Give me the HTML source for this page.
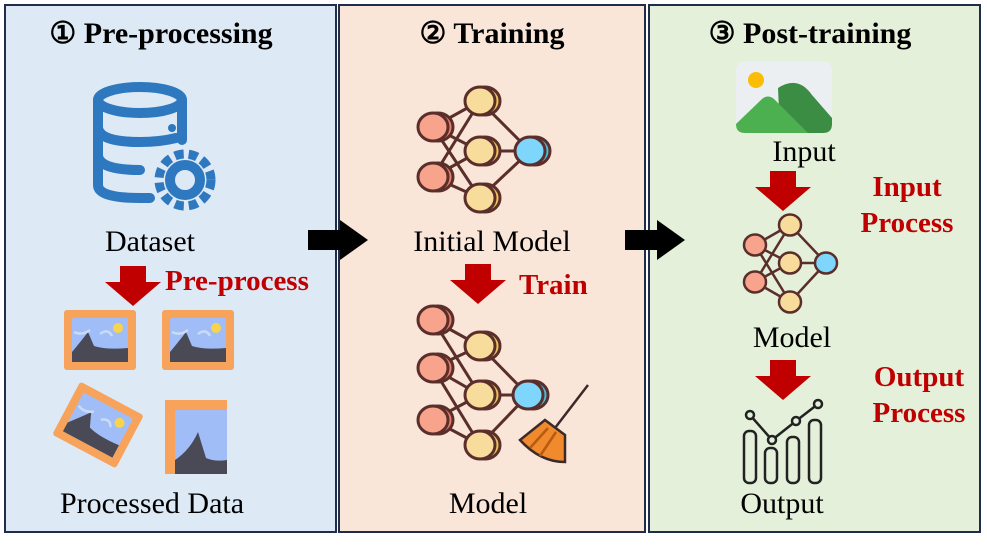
<!DOCTYPE html><html><head><style>body{margin:0;width:987px;height:541px;overflow:hidden;background:#fff}</style></head><body>
<svg width="987" height="541" viewBox="0 0 987 541" xmlns="http://www.w3.org/2000/svg" font-family="Liberation Serif, serif">
<defs>
<g id="dn"><rect x="-13" y="0" width="26" height="16" fill="#c00000"/><polygon points="-28,16 28,16 0,40" fill="#c00000"/></g>
<g id="rt"><rect x="0" y="-10" width="34" height="20" fill="#000"/><polygon points="32,-20 60,0 32,20" fill="#000"/></g>
<g id="pic"><rect x="-36" y="-30" width="72" height="60" rx="3" fill="#f7a35c"/><rect x="-28" y="-22" width="56" height="44" rx="2" fill="#a0bdf8"/><path d="M-28,12 Q-18,0 -12,-8 L-6,6 Q6,10 28,8 L28,22 L-28,22Z" fill="#4a4a56"/><path d="M-26,-8 Q-18,-4 -10,-10 M0,-6 Q8,-12 12,-4" stroke="#c8dcf8" stroke-width="2.5" fill="none"/><circle cx="18" cy="-12" r="5" fill="#f7d44c"/></g>
</defs>
<rect x="5" y="5" width="331" height="527" fill="#dde9f5" stroke="#1f2d4a" stroke-width="2"/>
<rect x="339" y="5" width="306" height="527" fill="#fae5d9" stroke="#1f2d4a" stroke-width="2"/>
<rect x="649" y="5" width="331" height="527" fill="#e4f0da" stroke="#1f2d4a" stroke-width="2"/>
<g font-weight="bold" font-size="30" text-anchor="middle" fill="#000">
<text x="161" y="43">① Pre-processing</text><text x="492" y="43">② Training</text><text x="810" y="43">③ Post-training</text></g>
<g font-size="30" text-anchor="middle" fill="#000">
<text x="150" y="251">Dataset</text><text x="152" y="513">Processed Data</text>
<text x="492" y="251">Initial Model</text><text x="488" y="513">Model</text>
<text x="804" y="161">Input</text><text x="792" y="347">Model</text><text x="782" y="513">Output</text></g>
<g font-weight="bold" font-size="29" fill="#c00000">
<text x="165" y="290">Pre-process</text><text x="519" y="294">Train</text>
<text x="907" y="196" text-anchor="middle">Input</text><text x="907" y="232" text-anchor="middle">Process</text>
<text x="919" y="386" text-anchor="middle">Output</text><text x="919" y="422" text-anchor="middle">Process</text></g>
<use href="#dn" x="133" y="266"/><use href="#dn" x="478" y="264"/><use href="#dn" x="783" y="171"/><use href="#dn" x="783" y="360"/>
<use href="#rt" x="308" y="240"/><use href="#rt" x="625" y="240"/>
<!-- database -->
<g stroke="#2e78c0" stroke-width="10" fill="none" stroke-linecap="round">
<ellipse cx="140" cy="100" rx="42" ry="13"/><path d="M98,100 V185 Q98,198 140,198 H150 M182,100 V140 M98,128 Q100,142 140,142 Q160,142 176,138 M98,156 Q100,170 140,170"/>
<circle cx="185" cy="180" r="15"/></g>
<g fill="#2e78c0"><circle cx="185" cy="180" r="26" fill="none" stroke="#2e78c0" stroke-width="9" stroke-dasharray="9 5"/><circle cx="172" cy="128" r="4"/></g>
<circle cx="185" cy="180" r="9" fill="#dde9f5"/>
<use href="#pic" x="100" y="340"/><use href="#pic" x="198" y="340"/>
<use href="#pic" transform="translate(98,425) rotate(28)"/>
<g><rect x="165" y="400" width="62" height="74" fill="#f7a35c"/><rect x="175" y="410" width="52" height="64" fill="#a0bdf8"/><path d="M175,460 Q190,450 198,432 L206,458 Q215,462 227,460 V474 H175Z" fill="#4a4a56"/></g>
<!-- networks -->
<g stroke="#5a2e2a" stroke-width="3">
<path d="M433,127 L480,101 M433,127 L480,151 M433,127 L480,198 M433,177 L480,101 M433,177 L480,151 M433,177 L480,198 M480,101 L530,151 M480,151 L530,151 M480,198 L530,151"/>
<g fill="#e97f6a"><ellipse cx="438" cy="127" rx="15" ry="14"/><ellipse cx="438" cy="177" rx="15" ry="14"/></g>
<g fill="#f8a38c"><ellipse cx="433" cy="127" rx="15" ry="14"/><ellipse cx="433" cy="177" rx="15" ry="14"/></g>
<g fill="#efc45a"><ellipse cx="485" cy="101" rx="15" ry="14"/><ellipse cx="485" cy="151" rx="15" ry="14"/><ellipse cx="485" cy="198" rx="15" ry="14"/></g>
<g fill="#f8dc9c"><ellipse cx="480" cy="101" rx="15" ry="14"/><ellipse cx="480" cy="151" rx="15" ry="14"/><ellipse cx="480" cy="198" rx="15" ry="14"/></g>
<ellipse cx="535" cy="151" rx="15" ry="14" fill="#4cbcd8"/><ellipse cx="530" cy="151" rx="15" ry="14" fill="#7fd6fc"/>
</g>
<g stroke="#5a2e2a" stroke-width="3">
<path d="M433,320 L480,346 M433,320 L480,395 M433,368 L480,346 M433,368 L480,395 M433,368 L480,445 M433,420 L480,395 M433,420 L480,445 M480,346 L528,395 M480,395 L528,395 M480,445 L528,395"/>
<g fill="#e97f6a"><ellipse cx="438" cy="320" rx="15" ry="14"/><ellipse cx="438" cy="368" rx="15" ry="14"/><ellipse cx="438" cy="420" rx="15" ry="14"/></g>
<g fill="#f8a38c"><ellipse cx="433" cy="320" rx="15" ry="14"/><ellipse cx="433" cy="368" rx="15" ry="14"/><ellipse cx="433" cy="420" rx="15" ry="14"/></g>
<g fill="#efc45a"><ellipse cx="485" cy="346" rx="15" ry="14"/><ellipse cx="485" cy="395" rx="15" ry="14"/><ellipse cx="485" cy="445" rx="15" ry="14"/></g>
<g fill="#f8dc9c"><ellipse cx="480" cy="346" rx="15" ry="14"/><ellipse cx="480" cy="395" rx="15" ry="14"/><ellipse cx="480" cy="445" rx="15" ry="14"/></g>
<ellipse cx="533" cy="395" rx="15" ry="14" fill="#4cbcd8"/><ellipse cx="528" cy="395" rx="15" ry="14" fill="#7fd6fc"/>
</g>
<!-- broom -->
<g stroke="#3a2a2a" stroke-width="2.5"><line x1="588" y1="385" x2="555" y2="428"/>
<path d="M545,420 L565,435 L565,462 Q540,462 520,440 Z" fill="#f08a2c"/><path d="M530,448 L548,428 M540,456 L556,432" stroke="#b85a10"/></g>
<!-- small network -->
<g stroke="#5a2e2a" stroke-width="2.5">
<path d="M755,245 L790,225 M755,245 L790,263 M755,245 L790,302 M755,282 L790,225 M755,282 L790,263 M755,282 L790,302 M790,225 L826,263 M790,263 L826,263 M790,302 L826,263"/>
<g fill="#f8a38c"><ellipse cx="755" cy="245" rx="11" ry="10.5"/><ellipse cx="755" cy="282" rx="11" ry="10.5"/></g>
<g fill="#f8dc9c"><ellipse cx="790" cy="225" rx="11" ry="10.5"/><ellipse cx="790" cy="263" rx="11" ry="10.5"/><ellipse cx="790" cy="302" rx="11" ry="10.5"/></g>
<ellipse cx="826" cy="263" rx="11" ry="10.5" fill="#7fd6fc"/></g>
<!-- image icon -->
<rect x="736" y="61" width="96" height="72" rx="9" fill="#eceff2"/>
<circle cx="756" cy="80" r="8" fill="#fbbc05"/>
<path d="M778,88 Q798,75 812,95 L832,118 V124 Q832,133 823,133 H780 Z" fill="#3a8d42"/>
<path d="M736,124 L762,99 Q768,94 774,99 L808,133 H745 Q736,133 736,124Z" fill="#4caf50"/>
<!-- output icon -->
<g stroke="#222" stroke-width="2.5" fill="none">
<rect x="744" y="431" width="12" height="52" rx="5"/><rect x="765" y="448" width="12" height="35" rx="5"/><rect x="787" y="437" width="12" height="46" rx="5"/><rect x="809" y="420" width="12" height="63" rx="5"/>
<polyline points="750,415 772,440 796,421 818,404"/></g>
<g fill="#e4f0da" stroke="#222" stroke-width="2.5"><circle cx="750" cy="415" r="4"/><circle cx="772" cy="440" r="4"/><circle cx="796" cy="421" r="4"/><circle cx="818" cy="404" r="4"/></g>
</svg></body></html>
